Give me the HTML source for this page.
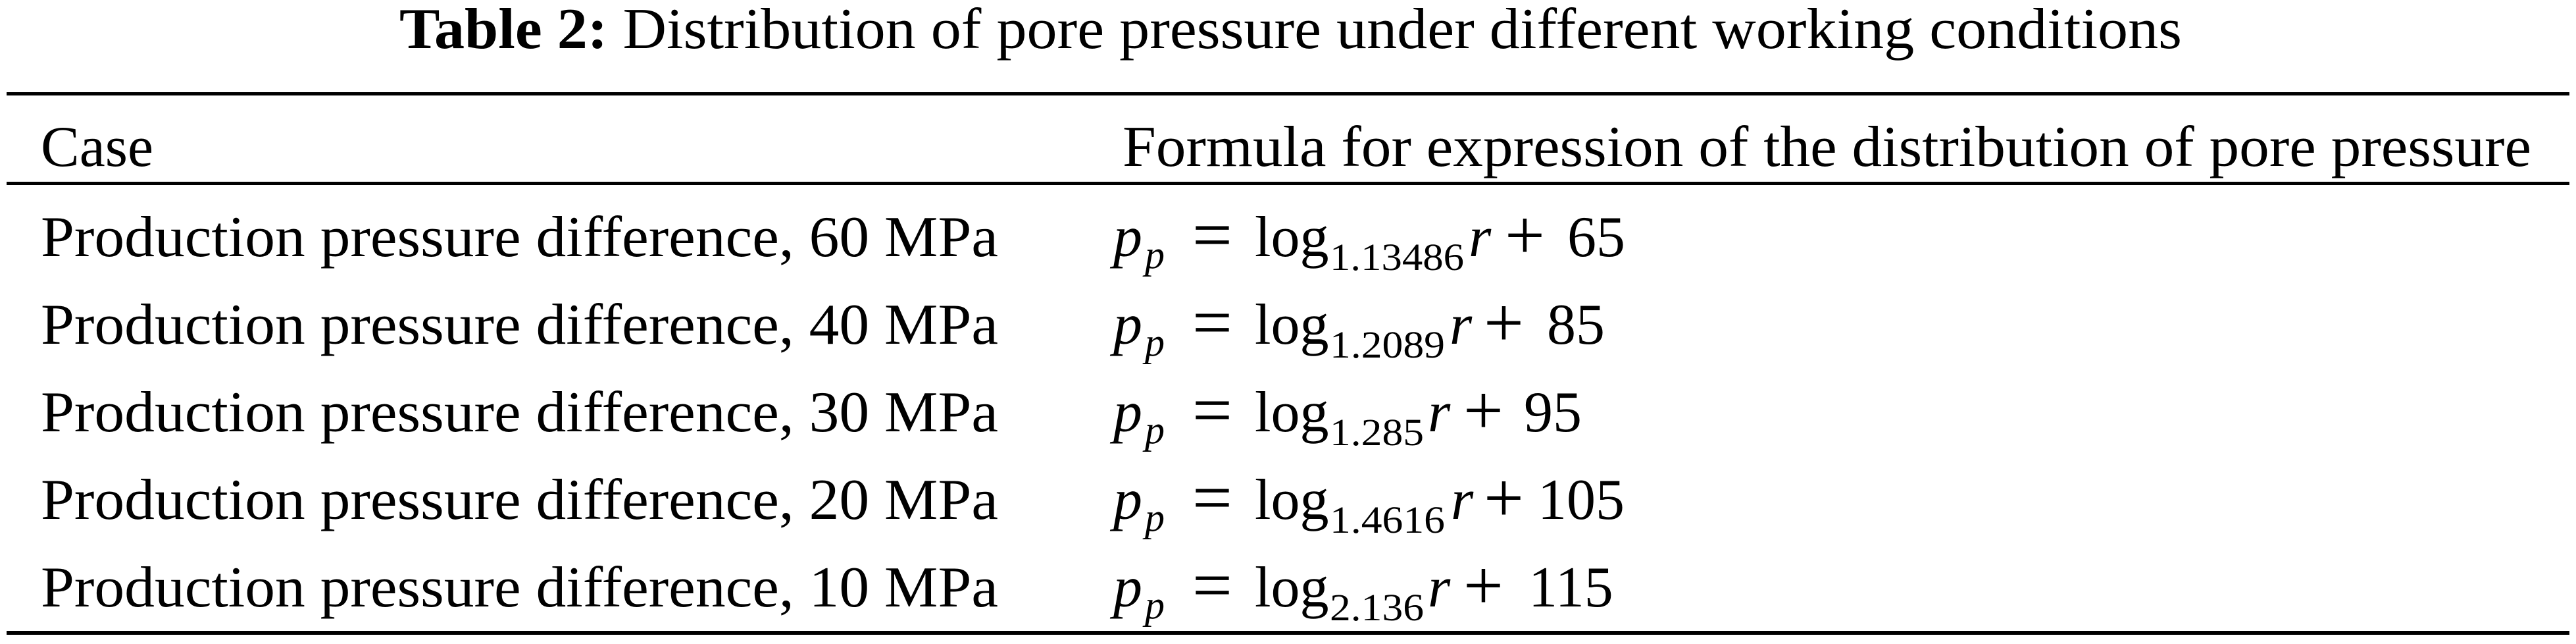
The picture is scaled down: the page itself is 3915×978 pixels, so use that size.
<!DOCTYPE html>
<html><head><meta charset="utf-8"><style>
html,body{margin:0;padding:0;background:#fff;}
svg{display:block;}
text{font-family:"Liberation Serif",serif;fill:#000;}
.op{font-size:108px;}
</style></head><body>
<svg width="3915" height="978" viewBox="0 0 3915 978" xmlns="http://www.w3.org/2000/svg">
<text x="607" y="73" font-size="88" textLength="2709" lengthAdjust="spacingAndGlyphs"><tspan font-weight="bold">Table 2:</tspan>  Distribution of pore pressure under different working conditions</text>
<rect x="10" y="140" width="3895" height="5"/>
<text x="62" y="252" font-size="88">Case</text>
<text x="1706" y="252" font-size="88" textLength="2141" lengthAdjust="spacingAndGlyphs">Formula for expression of the distribution of pore pressure</text>
<rect x="10" y="276" width="3895" height="5"/>
<g font-size="88">
<text x="62" y="389" textLength="1455" lengthAdjust="spacingAndGlyphs">Production pressure difference, 60 MPa</text>
<text x="62" y="522" textLength="1455" lengthAdjust="spacingAndGlyphs">Production pressure difference, 40 MPa</text>
<text x="62" y="655" textLength="1455" lengthAdjust="spacingAndGlyphs">Production pressure difference, 30 MPa</text>
<text x="62" y="788" textLength="1455" lengthAdjust="spacingAndGlyphs">Production pressure difference, 20 MPa</text>
<text x="62" y="921" textLength="1455" lengthAdjust="spacingAndGlyphs">Production pressure difference, 10 MPa</text>
</g>
<g font-size="88">
<g transform="translate(0,389)">
<text x="1692" y="0" font-style="italic">p</text><text x="1740" y="18" font-style="italic" font-size="60">p</text>
<text x="1812" y="4" class="op">=</text><text x="1907" y="0">log</text>
<text x="2021" y="21" font-size="58" textLength="204" lengthAdjust="spacingAndGlyphs">1.13486</text>
<text x="2232" y="0" font-style="italic">r</text><text x="2287" y="4" class="op">+</text><text x="2382" y="0">65</text>
</g>
<g transform="translate(0,522)">
<text x="1692" y="0" font-style="italic">p</text><text x="1740" y="18" font-style="italic" font-size="60">p</text>
<text x="1812" y="4" class="op">=</text><text x="1907" y="0">log</text>
<text x="2021" y="21" font-size="58" textLength="175" lengthAdjust="spacingAndGlyphs">1.2089</text>
<text x="2203" y="0" font-style="italic">r</text><text x="2255" y="4" class="op">+</text><text x="2351" y="0">85</text>
</g>
<g transform="translate(0,655)">
<text x="1692" y="0" font-style="italic">p</text><text x="1740" y="18" font-style="italic" font-size="60">p</text>
<text x="1812" y="4" class="op">=</text><text x="1907" y="0">log</text>
<text x="2021" y="21" font-size="58" textLength="143" lengthAdjust="spacingAndGlyphs">1.285</text>
<text x="2170" y="0" font-style="italic">r</text><text x="2224" y="4" class="op">+</text><text x="2316" y="0">95</text>
</g>
<g transform="translate(0,788)">
<text x="1692" y="0" font-style="italic">p</text><text x="1740" y="18" font-style="italic" font-size="60">p</text>
<text x="1812" y="4" class="op">=</text><text x="1907" y="0">log</text>
<text x="2021" y="21" font-size="58" textLength="175" lengthAdjust="spacingAndGlyphs">1.4616</text>
<text x="2205" y="0" font-style="italic">r</text><text x="2255" y="4" class="op">+</text><text x="2337" y="0">105</text>
</g>
<g transform="translate(0,921)">
<text x="1692" y="0" font-style="italic">p</text><text x="1740" y="18" font-style="italic" font-size="60">p</text>
<text x="1812" y="4" class="op">=</text><text x="1907" y="0">log</text>
<text x="2021" y="21" font-size="58" textLength="143" lengthAdjust="spacingAndGlyphs">2.136</text>
<text x="2170" y="0" font-style="italic">r</text><text x="2224" y="4" class="op">+</text><text x="2323" y="0">115</text>
</g>
</g>
<rect x="10" y="958" width="3895" height="6"/>
</svg>
</body></html>
